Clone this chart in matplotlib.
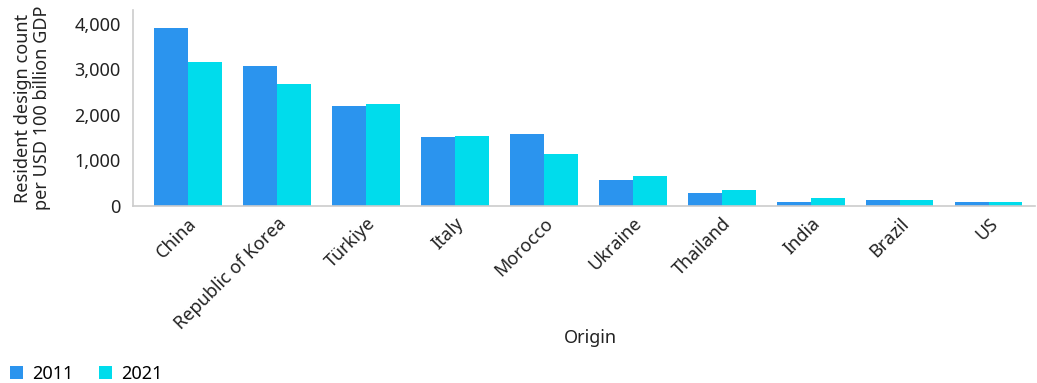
import numpy as np
import matplotlib.pyplot as plt

plt.rcParams['font.family'] = ['Noto Sans', 'DejaVu Sans']

# data
origins = ['China', 'Republic of Korea', 'Türkiye', 'Italy', 'Morocco',
           'Ukraine', 'Thailand', 'India', 'Brazil', 'US']
counts_2011 = [3910, 3080, 2200, 1525, 1585, 575, 290, 90, 135, 90]
counts_2021 = [3165, 2680, 2245, 1540, 1145, 660, 355, 180, 135, 90]

col_2011 = '#2b94ee'
col_2021 = '#00dcec'
fs = 13

fig = plt.figure(figsize=(10.37, 3.83), dpi=100)
ax = fig.add_axes([0.128, 0.462, 0.87, 0.512])

x = np.arange(len(origins))
w = 0.38
ax.bar(x - w / 2, counts_2011, width=w, color=col_2011, label='2011')
ax.bar(x + w / 2, counts_2021, width=w, color=col_2021, label='2021')

ax.set_xlim(-0.62, 9.52)
ax.set_ylim(0, 4300)
ax.set_yticks([0, 1000, 2000, 3000, 4000])
ax.set_yticklabels(['0', '1,000', '2,000', '3,000', '4,000'], fontsize=fs, color='#222222')
ax.set_xticks(x)
ax.set_xticklabels(origins, rotation=45, ha='right', rotation_mode='anchor',
                   fontsize=fs, color='#222222')
ax.tick_params(axis='y', length=0, pad=8.5)
ax.tick_params(axis='x', length=0, pad=6)

for s in ['top', 'right']:
    ax.spines[s].set_visible(False)
for s in ['left', 'bottom']:
    ax.spines[s].set_color('#cccccc')
    ax.spines[s].set_linewidth(1.2)

ax.set_ylabel('Resident design count\nper USD 100 billion GDP', fontsize=fs,
              color='#222222', linespacing=1.05)
ax.yaxis.set_label_coords(-0.091, 0.5)
ax.set_xlabel('Origin', fontsize=fs, color='#222222')
ax.xaxis.set_label_coords(0.507, -0.625)

fig.legend(loc='lower left', bbox_to_anchor=(0.0096, 0.0), ncol=2, frameon=False,
           fontsize=fs, handlelength=0.72, handleheight=0.72, handletextpad=0.5,
           columnspacing=1.45, borderpad=0, borderaxespad=0)

fig.savefig('out.png', dpi=100)
